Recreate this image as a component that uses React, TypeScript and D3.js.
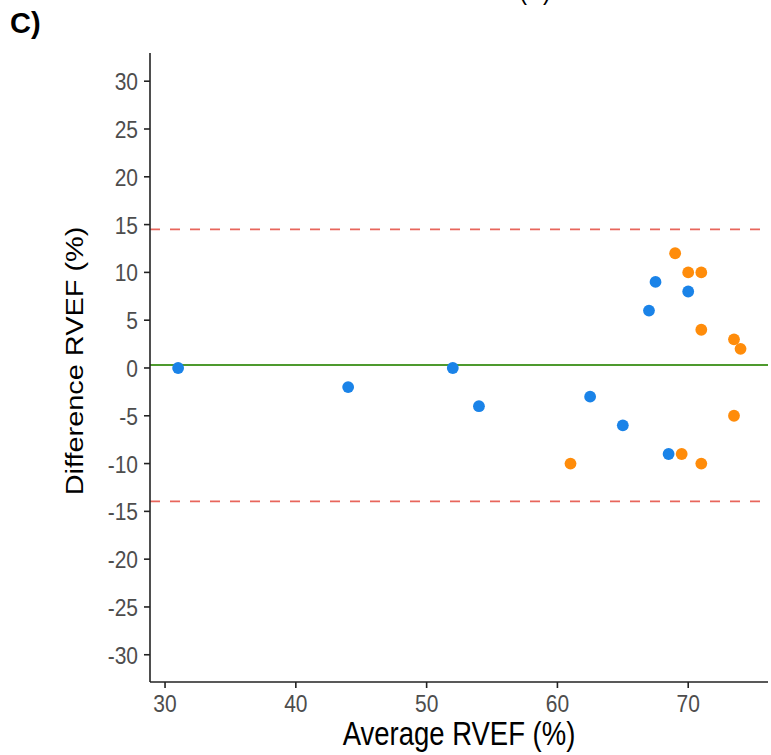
import React from "react";
import * as d3 from "d3";

const blueX = [31, 44, 52, 54, 62.5, 65, 67, 67.5, 70, 68.5];
const blueY = [0, -2, 0, -4, -3, -6, 6, 9, 8, -9];
const orangeX = [61, 69, 70, 71, 71, 73.5, 74, 73.5, 69.5, 71];
const orangeY = [-10, 12, 10, 10, 4, 3, 2, -5, -9, -10];
const meanDiff = 0.3;
const upperLoA = 14.5;
const lowerLoA = -13.95;
const xTicks = [30, 40, 50, 60, 70];
const yTicks = [30, 25, 20, 15, 10, 5, 0, -5, -10, -15, -20, -25, -30];

const W = 771;
const H = 755;
const left = 150;
const right = 768;
const top = 53;
const bottom = 682;
const SY = 1.18;

export default function App() {
  const x = d3.scaleLinear().domain([28.85, 76.1]).range([left, right]);
  const y = d3.scaleLinear().domain([-32.85, 32.95]).range([bottom, top]);
  const font = "'Liberation Sans', Arial, Helvetica, sans-serif";
  const blue = blueX.map((v, i) => ({ x: v, y: blueY[i] }));
  const orange = orangeX.map((v, i) => ({ x: v, y: orangeY[i] }));
  return (
    <svg
      width={W}
      height={H}
      style={{ position: "absolute", left: 0, top: 0, background: "#fff" }}
      fontFamily={font}
    >
      <rect x={0} y={0} width={W} height={H} fill="#fff" />
      <text transform={`translate(535, -1.5) scale(1, ${SY})`} textAnchor="middle" fontSize={24} fill="#000">(B)</text>
      <text x={10} y={33} fontSize={29} fontWeight="bold" fill="#000">C)</text>
      {/* reference lines */}
      <line x1={left} x2={right} y1={y(upperLoA)} y2={y(upperLoA)} stroke="#e8665c" strokeWidth={1.8} strokeDasharray="10,10" />
      <line x1={left} x2={right} y1={y(lowerLoA)} y2={y(lowerLoA)} stroke="#e8665c" strokeWidth={1.8} strokeDasharray="10,10" />
      <line x1={left} x2={right} y1={y(meanDiff)} y2={y(meanDiff)} stroke="#4e9a2e" strokeWidth={2} />
      {/* points */}
      {blue.map((d, i) => (
        <circle key={"b" + i} cx={x(d.x)} cy={y(d.y)} r={5.9} fill="#1a83e8" />
      ))}
      {orange.map((d, i) => (
        <circle key={"o" + i} cx={x(d.x)} cy={y(d.y)} r={5.9} fill="#ff8c0a" />
      ))}
      {/* axes */}
      <line x1={left} x2={left} y1={top} y2={bottom} stroke="#222" strokeWidth={1.6} />
      <line x1={left} x2={right} y1={bottom} y2={bottom} stroke="#222" strokeWidth={1.6} />
      {yTicks.map((t) => (
        <g key={"yt" + t}>
          <line x1={left - 6} x2={left} y1={y(t)} y2={y(t)} stroke="#222" strokeWidth={1.6} />
          <text
            transform={`translate(${left - 12}, ${y(t)}) scale(1, ${SY})`}
            dy="0.36em"
            textAnchor="end"
            fontSize={21}
            fill="#4d4d4d"
          >
            {t}
          </text>
        </g>
      ))}
      {xTicks.map((t) => (
        <g key={"xt" + t}>
          <line x1={x(t)} x2={x(t)} y1={bottom} y2={bottom + 6} stroke="#222" strokeWidth={1.6} />
          <text
            transform={`translate(${x(t)}, 712) scale(1, ${SY})`}
            textAnchor="middle"
            fontSize={21}
            fill="#4d4d4d"
          >
            {t}
          </text>
        </g>
      ))}
      <text
        transform={`translate(${(left + right) / 2}, 745) scale(1, ${SY})`}
        textAnchor="middle"
        fontSize={27.5}
        fill="#000"
      >
        Average RVEF (%)
      </text>
      <text
        transform={`translate(83, 361) rotate(-90) scale(${SY}, 1)`}
        textAnchor="middle"
        fontSize={24.5}
        fill="#000"
      >
        Difference RVEF (%)
      </text>
    </svg>
  );
}
